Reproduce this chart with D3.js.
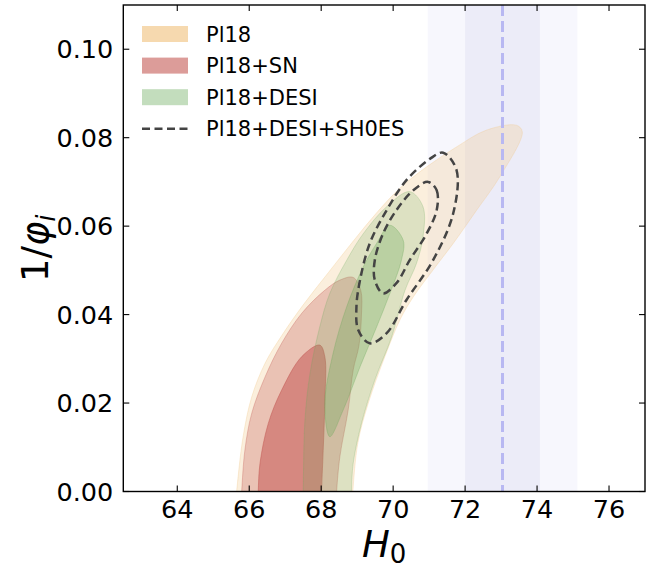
<!DOCTYPE html>
<html><head><meta charset="utf-8">
<script src="https://cdn.jsdelivr.net/npm/d3@7"></script>
<style>body{margin:0;background:#fff}svg text{font-family:"DejaVu Sans",sans-serif}</style>
</head><body><svg id="c" width="662" height="572"></svg>
<script>
// ---- data ----
const xDomain = [62.5, 77];
const yDomain = [0, 0.11];
const xTicks = [64, 66, 68, 70, 72, 74, 76];
const yTicks = [0.00, 0.02, 0.04, 0.06, 0.08, 0.10];
const shoesMean = 73.04, shoesSigma = 1.04;
const legendLabels = ["Pl18", "Pl18+SN", "Pl18+DESI", "Pl18+DESI+SH0ES"];

// contour boundaries [H0, 1/phi_i]
const pl18Outer = [[65.62,-0.003],[65.65,0.0],[65.83,0.0124],[66.07,0.0214],[66.44,0.0290],[66.90,0.0352],[67.50,0.0422],[68.20,0.0495],[68.88,0.0565],[69.54,0.0630],[70.19,0.0686],[70.93,0.0734],[71.76,0.0779],[72.59,0.0817],[73.43,0.0828],[73.59,0.0813],[72.96,0.0711],[72.32,0.0636],[71.67,0.0561],[71.11,0.0501],[70.56,0.0440],[70.20,0.0390],[69.77,0.0305],[69.31,0.0200],[69.02,0.0110],[68.88,0.0],[68.86,-0.003]];
const snOuter = [[65.77,-0.003],[65.79,0.0],[65.88,0.0094],[66.07,0.0177],[66.44,0.0259],[66.90,0.0335],[67.46,0.0403],[68.10,0.0455],[68.52,0.0478],[68.89,0.0484],[69.10,0.0455],[69.12,0.0400],[69.05,0.0330],[68.89,0.0275],[68.75,0.0184],[68.52,0.0079],[68.43,0.0],[68.42,-0.003]];
const snInner = [[66.24,-0.003],[66.25,0.0],[66.30,0.0064],[66.53,0.0154],[66.90,0.0229],[67.46,0.0305],[67.96,0.0331],[68.10,0.0305],[68.10,0.0200],[68.01,0.0],[68.00,-0.003]];
const desiOuter = [[67.49,-0.003],[67.50,0.0],[67.55,0.0162],[67.69,0.0267],[67.96,0.0372],[68.24,0.0448],[68.71,0.0523],[69.17,0.0583],[69.82,0.0644],[70.46,0.0678],[70.83,0.0644],[70.83,0.0576],[70.65,0.0516],[70.33,0.0455],[69.96,0.0350],[69.49,0.0252],[69.12,0.0154],[68.89,0.0064],[68.84,0.0],[68.83,-0.003]];
const desiInner = [[69.91,0.0602],[70.28,0.0568],[70.23,0.0523],[69.91,0.0448],[69.54,0.0372],[69.08,0.0282],[68.61,0.0184],[68.24,0.0124],[68.10,0.0199],[68.33,0.0312],[68.71,0.0418],[69.17,0.0508],[69.54,0.0561]];
const shoesOuter = [[71.39,0.0766],[71.76,0.0727],[71.67,0.0629],[71.11,0.0523],[70.37,0.0433],[69.82,0.0358],[69.35,0.0335],[69.03,0.0365],[68.98,0.0418],[69.08,0.0478],[69.35,0.0561],[69.82,0.0636],[70.37,0.0704],[71.02,0.0752]];
const shoesInner = [[70.97,0.0700],[71.21,0.0681],[71.21,0.0636],[70.93,0.0583],[70.46,0.0523],[70.09,0.0471],[69.72,0.0448],[69.49,0.0478],[69.49,0.0523],[69.72,0.0583],[70.09,0.0636],[70.56,0.0681]];

// ---- layout ----
const L = 123.3, R = 645, T = 5, B = 491.5;
const svg = d3.select("#c");
const x = d3.scaleLinear().domain(xDomain).range([L, R]);
const y = d3.scaleLinear().domain(yDomain).range([B, T]);

svg.append("clipPath").attr("id","clip").append("rect")
  .attr("x",L).attr("y",T).attr("width",R-L).attr("height",B-T);
const g = svg.append("g").attr("clip-path","url(#clip)");

// SH0ES bands
g.append("rect").attr("x",x(shoesMean-2*shoesSigma)).attr("y",T)
  .attr("width",x(shoesMean+2*shoesSigma)-x(shoesMean-2*shoesSigma)).attr("height",B-T).attr("fill","#f7f7fd");
g.append("rect").attr("x",x(shoesMean-shoesSigma)).attr("y",T)
  .attr("width",x(shoesMean+shoesSigma)-x(shoesMean-shoesSigma)).attr("height",B-T).attr("fill","#ececf8");

const line = d3.line().x(d=>x(d[0])).y(d=>y(d[1])).curve(d3.curveCatmullRomClosed.alpha(0.5));

const cols = {pl18:"#f2c98d", sn:"#c45a55", desi:"#6aaa5a"};
function area(data, col, op){
  g.append("path").attr("d",line(data)).attr("fill",col).attr("fill-opacity",op)
   .attr("stroke",col).attr("stroke-opacity",Math.min(1,op+0.1)).attr("stroke-width",0.8);
}
area(pl18Outer, cols.pl18, 0.3);
area(snOuter, cols.sn, 0.3);
area(snInner, cols.sn, 0.55);
area(desiOuter, cols.desi, 0.2);
area(desiInner, cols.desi, 0.3);

// SH0ES mean line
g.append("line").attr("x1",x(shoesMean)).attr("x2",x(shoesMean)).attr("y1",T).attr("y2",B)
  .attr("stroke","#b8b8f2").attr("stroke-width",3).attr("stroke-dasharray","11,5");

[shoesOuter, shoesInner].forEach(d=>{
  g.append("path").attr("d",line(d)).attr("fill","none").attr("stroke","#444")
   .attr("stroke-width",2.5).attr("stroke-dasharray","8,4.5");
});

// ---- axes ----
const fs = 25.5;
const ax = svg.append("g");
ax.append("rect").attr("x",L).attr("y",T).attr("width",R-L).attr("height",B-T)
  .attr("fill","none").attr("stroke","#000").attr("stroke-width",1.4);
xTicks.forEach(t=>{
  ax.append("line").attr("x1",x(t)).attr("x2",x(t)).attr("y1",B).attr("y2",B-6).attr("stroke","#000").attr("stroke-width",1.1);
  ax.append("line").attr("x1",x(t)).attr("x2",x(t)).attr("y1",T).attr("y2",T+6).attr("stroke","#000").attr("stroke-width",1.1);
  ax.append("text").attr("x",x(t)).attr("y",B+26).attr("text-anchor","middle").attr("font-size",fs).text(d3.format("d")(t));
});
yTicks.forEach(t=>{
  ax.append("line").attr("x1",L).attr("x2",L+6).attr("y1",y(t)).attr("y2",y(t)).attr("stroke","#000").attr("stroke-width",1.1);
  ax.append("line").attr("x1",R).attr("x2",R-6).attr("y1",y(t)).attr("y2",y(t)).attr("stroke","#000").attr("stroke-width",1.1);
  ax.append("text").attr("x",L-10).attr("y",y(t)).attr("dy","0.36em").attr("text-anchor","end").attr("font-size",fs).text(d3.format(".2f")(t));
});

// axis labels
const xl = ax.append("text").attr("x",(L+R)/2).attr("y",557).attr("text-anchor","middle").attr("font-size",37);
xl.append("tspan").attr("font-style","italic").text("H");
xl.append("tspan").attr("font-size",26).attr("dy",6).text("0");

const yl = ax.append("text").attr("transform",`translate(48,${(T+B)/2}) rotate(-90)`).attr("text-anchor","middle").attr("font-size",37);
yl.append("tspan").text("1/");
yl.append("tspan").attr("font-style","italic").text("φ");
yl.append("tspan").attr("font-style","italic").attr("font-size",26).attr("dy",7).text("i");

// legend
const lg = svg.append("g");
const legCols = [[cols.pl18,0.7],[cols.sn,0.6],[cols.desi,0.4]];
legendLabels.forEach((lab,i)=>{
  const cy = 34 + i*31.6;
  if(i<3){
    lg.append("rect").attr("x",142).attr("y",cy-8).attr("width",46).attr("height",16)
      .attr("fill",legCols[i][0]).attr("fill-opacity",legCols[i][1]);
  } else {
    lg.append("line").attr("x1",142).attr("x2",188).attr("y1",cy).attr("y2",cy)
      .attr("stroke","#444").attr("stroke-width",2.5).attr("stroke-dasharray","8,4.5");
  }
  lg.append("text").attr("x",206).attr("y",cy).attr("dy","0.36em").attr("font-size",21).text(lab);
});
</script></body></html>
